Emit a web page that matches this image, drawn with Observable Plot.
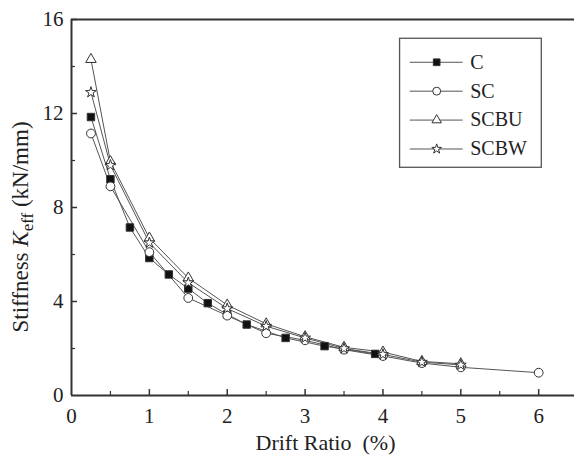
<!DOCTYPE html>
<html><head><meta charset="utf-8">
<script src="https://cdn.jsdelivr.net/npm/d3@7"></script>
<script src="https://cdn.jsdelivr.net/npm/@observablehq/plot@0.6"></script>
<style>body{margin:0;background:#fff}</style>
</head><body><div id="chart"></div>
<script>
// ---- data ----
const series = ["C", "SC", "SCBU", "SCBW"];
const symbols = ["square", "circle", "triangle", "star"];
const fills = ["#111", "white", "white", "white"];

const driftC = [0.25, 0.5, 0.75, 1, 1.25, 1.5, 1.75, 2, 2.25, 2.75, 3.25, 3.9];
const kC     = [11.85, 9.2, 7.15, 5.85, 5.15, 4.55, 3.93, 3.45, 3.02, 2.45, 2.1, 1.77];

const driftSC = [0.25, 0.5, 1, 1.5, 2, 2.5, 3, 3.5, 4, 4.5, 5, 6];
const kSC     = [11.15, 8.9, 6.1, 4.15, 3.4, 2.65, 2.35, 1.95, 1.68, 1.38, 1.2, 0.97];

const driftSCBU = [0.25, 0.5, 1, 1.5, 2, 2.5, 3, 3.5, 4, 4.5, 5];
const kSCBU     = [14.3, 9.95, 6.7, 5.0, 3.85, 3.05, 2.5, 2.05, 1.85, 1.45, 1.35];

const driftSCBW = [0.25, 0.5, 1, 1.5, 2, 2.5, 3, 3.5, 4, 4.5, 5];
const kSCBW     = [12.9, 9.8, 6.5, 4.8, 3.7, 2.95, 2.45, 2.0, 1.75, 1.42, 1.3];

const xTickLabels = [0, 1, 2, 3, 4, 5, 6];
const xMinorTicks = [0.5, 1.5, 2.5, 3.5, 4.5, 5.5];
const yTickLabels = [0, 4, 8, 12, 16];
const yMinorTicks = [2, 6, 10, 14];

// ---- build ----
const markerR = [4.2, 4.4, 3.9, 3.4];
const drifts = [driftC, driftSC, driftSCBU, driftSCBW];
const ks = [kC, kSC, kSCBU, kSCBW];
const data = series.map((s, i) => drifts[i].map((d, j) => ({series: s, x: d, y: ks[i][j]})));

const W = 574, H = 462, mL = 71, mR = 0, mT = 19, mB = 67;
const innerW = W - mL - mR, innerH = H - mT - mB;
const font = "'Liberation Serif', 'Times New Roman', serif";
const ink = "#333";

// legend rows (data units of the plot)
const legendTop = 14.18, legendStep = 1.23;
const legend = series.map((s, i) => ({series: s, i, y: legendTop - i * legendStep}));

const marks = [
  Plot.axisX(xTickLabels, {tickSize: 0, tickPadding: 13, fontSize: 21, label: null, fill: "#222"}),
  Plot.axisY(yTickLabels, {tickSize: 0, tickPadding: 8, fontSize: 21, label: null, fill: "#222"}),
  Plot.tickX(xTickLabels.slice(1), {x: d => d, insetTop: innerH - 6, stroke: ink, strokeWidth: 1.5}),
  Plot.tickX(xMinorTicks, {x: d => d, insetTop: innerH - 4, stroke: ink, strokeWidth: 1.2}),
  Plot.tickY(yTickLabels.slice(1), {y: d => d, insetRight: innerW - 6, stroke: ink, strokeWidth: 1.5}),
  Plot.tickY(yMinorTicks, {y: d => d, insetRight: innerW - 4, stroke: ink, strokeWidth: 1.2}),
  Plot.ruleX([0], {stroke: ink, strokeWidth: 2}),
  Plot.ruleY([0, 16], {stroke: ink, strokeWidth: 2}),
];
data.forEach((d, i) => marks.push(Plot.line(d, {x: "x", y: "y", stroke: "#555", strokeWidth: 1})));
data.forEach((d, i) => marks.push(Plot.dot(d, {x: "x", y: "y", symbol: () => symbols[i], r: markerR[i],
  fill: fills[i], stroke: "#333", strokeWidth: 1})));

// legend
marks.push(
  Plot.rect([{}], {x1: 4.22, x2: 6.04, y1: legend[3].y - 0.8, y2: legend[0].y + 1.0,
    fill: "none", stroke: "#555", strokeWidth: 1.3}),
  Plot.ruleY(legend, {y: "y", x1: 4.35, x2: 5.03, stroke: "#555", strokeWidth: 1}),
  ...legend.map(l => Plot.dot([l], {x: 4.69, y: "y", symbol: () => symbols[l.i], r: markerR[l.i] * 0.9,
    fill: fills[l.i], stroke: "#333", strokeWidth: 1})),
  Plot.text(legend, {x: 5.12, y: "y", text: "series", textAnchor: "start", fontSize: 20, fill: "#222"})
);

const chart = Plot.plot({
  width: W, height: H,
  marginLeft: mL, marginRight: mR, marginTop: mT, marginBottom: mB,
  style: {fontFamily: font, background: "white", color: "#222", overflow: "visible"},
  x: {domain: [0, 6.46]},
  y: {domain: [0, 16]},
  marks
});

// axis titles (with italic K and subscript)
const svg = d3.select(chart);
svg.append("text")
  .attr("x", mL + innerW / 2 + 3).attr("y", H - 12)
  .attr("text-anchor", "middle").attr("font-size", 22).attr("fill", "#222")
  .attr("font-family", font)
  .text("Drift Ratio  (%)").attr("xml:space", "preserve").style("white-space", "pre");

const yl = svg.append("text")
  .attr("transform", `translate(28,${mT + innerH / 2 + 20}) rotate(-90)`)
  .attr("text-anchor", "middle").attr("font-size", 23).attr("fill", "#222")
  .attr("font-family", font);
yl.append("tspan").text("Stiffness ");
yl.append("tspan").attr("font-style", "italic").text("K");
yl.append("tspan").attr("font-size", 17).attr("dy", 5).text("eff");
yl.append("tspan").attr("dy", -5).text(" (kN/mm)");

document.getElementById("chart").appendChild(chart);
</script>
</body></html>
